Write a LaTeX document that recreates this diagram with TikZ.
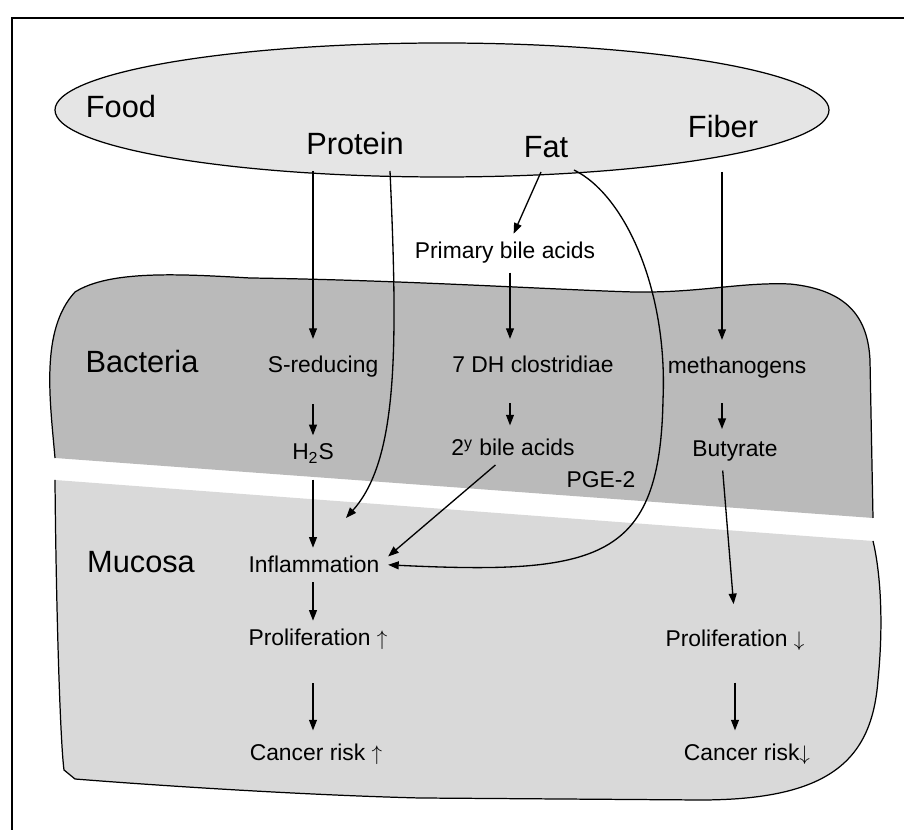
\documentclass[tikz,border=0pt]{standalone}
\usepackage{fontspec}
\setmainfont{Liberation Sans}
\usepackage{xcolor}
\definecolor{foodgray}{RGB}{229,229,229}
\definecolor{bactgray}{RGB}{186,186,186}
\definecolor{mucgray}{RGB}{217,217,217}
\usetikzlibrary{arrows.meta}

\begin{document}
\begin{tikzpicture}[x=0.02cm, y=-0.02cm, >={Triangle[length=6pt,width=4.5pt]},
    arr/.style={->, line width=0.75pt},
    edge/.style={line width=0.7pt},
    big/.style={font=\fontsize{17.5}{21}\selectfont, anchor=base, inner sep=0pt},
    lbl/.style={font=\fontsize{13}{16}\selectfont, anchor=base, inner sep=0pt, outer sep=5pt}]
    \useasboundingbox (0,0) rectangle (904,830);

    % Frame
    \draw[line width=1.6pt] (12,840) -- (12,18) -- (914,18);

    % Bacteria layer
    \fill[bactgray] (55,458) .. controls (50,400) and (40,330) .. (75,292)
        .. controls (110,270) and (180,274) .. (250,278)
        .. controls (400,280) and (560,290) .. (634,292)
        .. controls (700,293) and (740,282) .. (790,284)
        .. controls (850,290) and (868,320) .. (870,360) -- (873,518) -- cycle;
    \draw[edge] (55,458) .. controls (50,400) and (40,330) .. (75,292)
        .. controls (110,270) and (180,274) .. (250,278)
        .. controls (400,280) and (560,290) .. (634,292)
        .. controls (700,293) and (740,282) .. (790,284)
        .. controls (850,290) and (868,320) .. (870,360) -- (873,518);

    % Mucosa layer
    \fill[mucgray] (873,541) .. controls (880,570) and (884,620) .. (878,680)
        .. controls (872,760) and (830,800) .. (700,800) -- (420,798)
        .. controls (300,795) and (150,785) .. (75,779) -- (64,770)
        .. controls (60,740) and (56,600) .. (55,480) -- cycle;
    \draw[edge] (873,541) .. controls (880,570) and (884,620) .. (878,680)
        .. controls (872,760) and (830,800) .. (700,800) -- (420,798)
        .. controls (300,795) and (150,785) .. (75,779) -- (64,770)
        .. controls (60,740) and (56,600) .. (55,480);

    % Food
    \draw[edge, fill=foodgray] (442,110) ellipse [x radius=387, y radius=67];
    \node[big] (food) at (121,118) {Food};
    \node[big] (protein) at (355,155) {Protein};
    \node[big] (fat) at (546,158) {Fat};
    \node[big] (fiber) at (723,138) {Fiber};

    % Layer names
    \node[big] (bacteria) at (142,373) {Bacteria};
    \node[big] (mucosa) at (141,573) {Mucosa};

    % Pathway steps
    \node[lbl] (primary) at (505,259) {Primary bile acids};
    \node[lbl] (sred) at (323,373) {S-reducing};
    \node[lbl] (clost) at (533,373) {7 DH clostridiae};
    \node[lbl] (methano) at (737,374) {methanogens};
    \node[lbl] (hts) at (313,460) {H\textsubscript{2}S};
    \node[lbl] (sba) at (513,456) {2\textsuperscript{y} bile acids};
    \node[lbl] (butyrate) at (735,457) {Butyrate};
    \node[lbl] (pge) at (601,488) {PGE-2};
    \node[lbl] (inflam) at (314,573) {Inflammation};
    \node[lbl] (prolup) at (318,646) {Proliferation $\uparrow$};
    \node[lbl] (proldown) at (735,647) {Proliferation $\downarrow$};
    \node[lbl] (cancup) at (316,761) {Cancer risk $\uparrow$};
    \node[lbl] (cancdown) at (747,761) {Cancer risk$\downarrow$};

    % Loose ends at the food ellipse
    \coordinate (pa) at (313,171);
    \coordinate (pb) at (390,171);
    \coordinate (pend) at (346,518);
    \coordinate (fa) at (541,172);
    \coordinate (fb) at (574,170);
    \coordinate (fib) at (722,172);
    \coordinate (colB) at (510,0);

    % Protein
    \draw[arr, shorten >=5pt] (pa) -- (pa |- sred.north);
    \draw[arr, shorten <=10pt] (hts |- sred.south) -- (hts);
    \draw[arr, shorten <=4pt] (hts) -- (hts |- inflam.north);
    \draw[arr] (pb) .. controls (398,350) and (398,460) .. (pend);

    % Fat
    \draw[arr] (fa) -- (primary);
    \draw[arr, shorten >=5pt] (colB |- primary.south) -- (colB |- clost.north);
    \draw[arr, shorten <=12pt, shorten >=3pt] (colB |- clost.south) -- (colB |- sba.north);
    \draw[arr] ([xshift=-10pt]sba.south) -- ([yshift=-5pt]inflam.north east);
    \draw[arr] (fb) .. controls (625,195) and (668,290) .. (663,400)
        .. controls (660,560) and (600,575) .. (inflam.east);

    % Fiber
    \draw[arr, shorten >=5pt] (fib) -- (fib |- methano.north);
    \draw[arr, shorten <=9pt, shorten >=2pt] (fib |- methano.south) -- (fib |- butyrate.north);
    \draw[arr, shorten >=10pt] ([xshift=-7pt]butyrate.south) -- (proldown.north);

    % Outcome
    \draw[arr] (hts |- inflam.south) -- (hts |- prolup.north);
    \draw[arr, shorten <=14pt, shorten >=3pt] (hts |- prolup.south) -- (hts |- cancup.north);
    \draw[arr, shorten <=13pt, shorten >=3pt] (proldown.south) -- (proldown.south |- cancdown.north);
\end{tikzpicture}
\end{document}
